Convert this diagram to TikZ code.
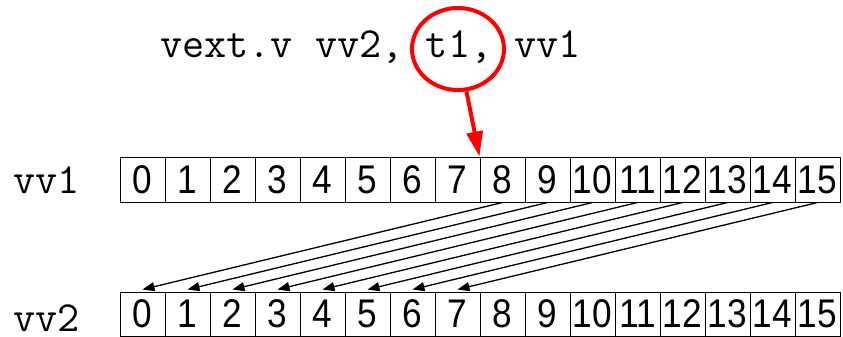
\documentclass[tikz,border=0pt]{standalone}
\usepackage{fontspec}
\setmainfont{Liberation Sans}
\newfontfamily\digitfont{Liberation Sans}[FakeStretch=0.88]
\usetikzlibrary{arrows.meta,shapes.geometric}

\begin{document}
\begin{tikzpicture}[x=1pt,y=-1pt,
  cell/.style={draw,line width=1pt,minimum width=45pt,minimum height=45pt,
    inner sep=0pt,font=\digitfont\fontsize{40}{40}\selectfont},
  lowcell/.style={cell,minimum height=44pt},
  code/.style={font=\ttfamily\fontsize{43}{43}\selectfont,inner sep=0pt,anchor=base west},
  movearrow/.style={-{Triangle[length=12pt,width=9pt]},line width=1.3pt},
  ring/.style={ellipse,draw=red,line width=4pt,minimum width=92pt,minimum height=82pt,inner sep=0pt},
  pointer/.style={-{Triangle[length=25pt,width=16pt]},draw=red,line width=4pt},
]
\useasboundingbox (0,0) rectangle (843,337);

% instruction and register names
\node[code] (instr) at (160,58) {vext.v vv2, t1, vv1};
\node[code] (l1) at (13,193) {vv1};
\node[code] (l2) at (13,331) {vv2};

% element rows of the two vector registers
\foreach \i in {0,...,15} {
  \node[cell] (a\i) at (142.5+45*\i,179.5) {\i};
  \node[lowcell] (b\i) at (142.5+45*\i,314) {\i};
}

% elements 8..15 of vv1 go to elements 0..7 of vv2
\foreach \i in {0,...,7} {
  \pgfmathtruncatemacro\j{\i+8}
  \draw[movearrow] (a\j.south) -- ([yshift=2pt]b\i.north);
}

% the offset operand t1 marks the start element
\node[ring] (t1ring) at (458,49) {};
\draw[pointer] (t1ring) -- (a8.north west);
\end{tikzpicture}
\end{document}
